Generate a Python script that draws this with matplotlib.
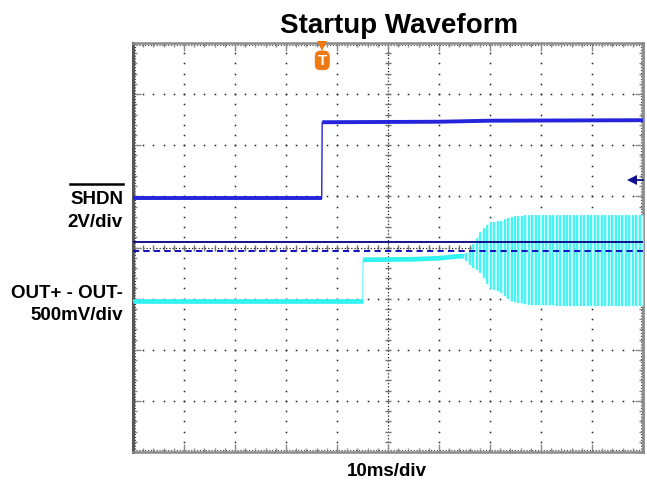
import numpy as np
import matplotlib
matplotlib.use("Agg")
import matplotlib.pyplot as plt
from matplotlib.lines import Line2D

# ---------------- data (time in ms, amplitude in divisions) ----------------
shdn_t = [0.0, 37.0, 37.1, 60.0, 70.0, 100.0]
shdn_v = [0.96, 0.96, 2.45, 2.46, 2.48, 2.49]

out_t = [0.0, 45.0, 45.1, 55.0, 60.0, 64.0, 66.0]
out_v = [-1.04, -1.04, -0.24, -0.23, -0.21, -0.17, -0.18]

osc_t = [64.7, 66.1, 68.0, 70.0, 72.0, 73.9, 77.8, 85.0, 100.0]
osc_top = [-0.15, -0.05, 0.30, 0.50, 0.52, 0.60, 0.64, 0.64, 0.64]
osc_bot = [-0.19, -0.35, -0.48, -0.80, -0.87, -1.05, -1.12, -1.14, -1.14]

ref_solid = 0.11     # navy reference line
ref_dashed = -0.07   # dashed blue reference line
trig_t = 37.1        # trigger position
gnd_marker = 1.32    # ch1 marker at right edge

title = "Startup Waveform"
xlabel = "10ms/div"
ch1_labels = ["SHDN", "2V/div"]
ch2_labels = ["OUT+ - OUT-", "500mV/div"]

# ---------------- figure ----------------
W, H = 647, 485
fig = plt.figure(figsize=(W / 100, H / 100), dpi=100)
fig.patch.set_facecolor("white")
ax = fig.add_axes([133 / W, (H - 453) / H, 510 / W, 409 / H])
ax.set_xlim(0, 100)
ax.set_ylim(-4, 4)

FONT = "Liberation Sans"

# grid dots
gx_minor = np.arange(0, 100.01, 2)
gy_minor = np.arange(-4, 4.001, 0.2)
for xm in range(10, 100, 10):
    if xm == 50:
        continue
    ax.plot(np.full_like(gy_minor, xm), gy_minor, ls="none", marker="s",
            ms=1.1, mew=0, color="#202020", zorder=1)
for ym in range(-3, 4):
    if ym == 0:
        continue
    ax.plot(gx_minor, np.full_like(gx_minor, ym), ls="none", marker="s",
            ms=1.1, mew=0, color="#202020", zorder=1)

# center cross lines with ticks
ax.axhline(0, color="#202020", lw=0.9, ls=(0, (1, 1.6)), zorder=1)
ax.axvline(50, color="#202020", lw=0.9, ls=(0, (1, 1.6)), zorder=1)
ax.plot(gx_minor, np.zeros_like(gx_minor), ls="none", marker="|", ms=5,
        mew=1.0, color="#707070", zorder=1)
ax.plot(np.full_like(gy_minor, 50), gy_minor, ls="none", marker="_", ms=5,
        mew=1.0, color="#707070", zorder=1)

# dotted rows along the frame
for yy in (-3.965, 3.965):
    ax.axhline(yy, color="#404040", lw=0.8, ls=(0, (1, 1.6)), zorder=1)
for xx in (0.35, 99.65):
    ax.axvline(xx, color="#404040", lw=0.8, ls=(0, (1, 1.6)), zorder=1)

# ---- channel 2 (cyan) ----
cyan = "#33f2f2"
ax.plot(out_t, out_v, color="#88f8f8", lw=1.0, zorder=4)
ax.plot(out_t[:2], out_v[:2], color=cyan, lw=3.4, zorder=4, solid_capstyle="butt")
ax.plot(out_t[2:], out_v[2:], color=cyan, lw=3.4, zorder=4, solid_capstyle="butt")
ax.fill_between(osc_t, osc_bot, osc_top, color="#c4ffff", lw=0, zorder=4)
vx = np.arange(osc_t[0], 100.0, 0.68)
ax.vlines(vx, np.interp(vx, osc_t, osc_bot), np.interp(vx, osc_t, osc_top),
          color=cyan, lw=1.2, zorder=4)

# ---- channel 1 (blue) ----
blue = "#2424dc"
ax.plot(shdn_t, shdn_v, color=blue, lw=1.0, zorder=5)
ax.plot(shdn_t[:2], shdn_v[:2], color=blue, lw=2.8, zorder=5, solid_capstyle="butt")
ax.plot(shdn_t[2:], shdn_v[2:], color=blue, lw=2.8, zorder=5, solid_capstyle="butt")

# reference lines (drawn over the traces)
ax.axhline(ref_solid, color="#000080", lw=1.3, zorder=6)
ax.axhline(ref_dashed, color="#1010c0", lw=1.4, ls=(0, (3.2, 2.2)), zorder=6)

# ch1 marker at right edge
ax.plot([98.0, 100], [gnd_marker, gnd_marker], color="#101090", lw=1.3, zorder=6,
        clip_on=False)
ax.plot([97.9], [gnd_marker], marker="<", ms=6.5, color="#101090", mew=0, zorder=6)

# trigger marker
orange = "#f07810"
ax.plot([trig_t], [3.95], marker="v", ms=7.5, color=orange, mew=0, zorder=7,
        clip_on=False)
ax.text(trig_t, 3.66, "T", color="white", fontsize=11, fontweight="bold",
        family=FONT, ha="center", va="center", zorder=8,
        bbox=dict(boxstyle="round,pad=0.16,rounding_size=0.35", fc=orange,
                  ec=orange, lw=0.5))

# frame / ticks
ax.set_xticks(np.arange(0, 101, 10))
ax.set_yticks(np.arange(-4, 4.01, 1))
ax.set_xticks(gx_minor, minor=True)
ax.set_yticks(gy_minor, minor=True)
ax.tick_params(which="both", direction="in", top=True, right=True,
               labelbottom=False, labelleft=False, color="#8a8a8a", width=1.0)
ax.tick_params(which="major", length=6)
ax.tick_params(which="minor", length=3)
for side, lw, c in (("left", 2.2, "#585858"), ("right", 2.0, "#8a8a8a"),
                    ("top", 1.8, "#8a8a8a"), ("bottom", 1.8, "#8a8a8a")):
    ax.spines[side].set_linewidth(lw)
    ax.spines[side].set_color(c)

# texts
def fx(x):
    return x / W

def fy(y):
    return 1 - y / H

fig.text(fx(399), fy(33), title, ha="center", va="baseline", fontsize=20,
         fontweight="bold", family=FONT)
fig.text(fx(387), fy(476), xlabel, ha="center", va="baseline", fontsize=13.5,
         fontweight="bold", family=FONT)
t_shdn = fig.text(fx(123), fy(204), ch1_labels[0], ha="right", va="baseline",
                  fontsize=13.5, fontweight="bold", family=FONT)
fig.text(fx(123), fy(227), ch1_labels[1], ha="right", va="baseline",
         fontsize=13.5, fontweight="bold", family=FONT)
fig.text(fx(123), fy(298), ch2_labels[0], ha="right", va="baseline",
         fontsize=13.5, fontweight="bold", family=FONT)
fig.text(fx(123), fy(320), ch2_labels[1], ha="right", va="baseline",
         fontsize=13.5, fontweight="bold", family=FONT)

# overline above SHDN
fig.canvas.draw()
bb = t_shdn.get_window_extent()
x0, x1 = bb.x0 / W, bb.x1 / W
fig.add_artist(Line2D([x0, x1], [fy(185), fy(185)], color="black", lw=1.8,
                      transform=fig.transFigure))

fig.savefig("out.png", dpi=100, facecolor="white")
